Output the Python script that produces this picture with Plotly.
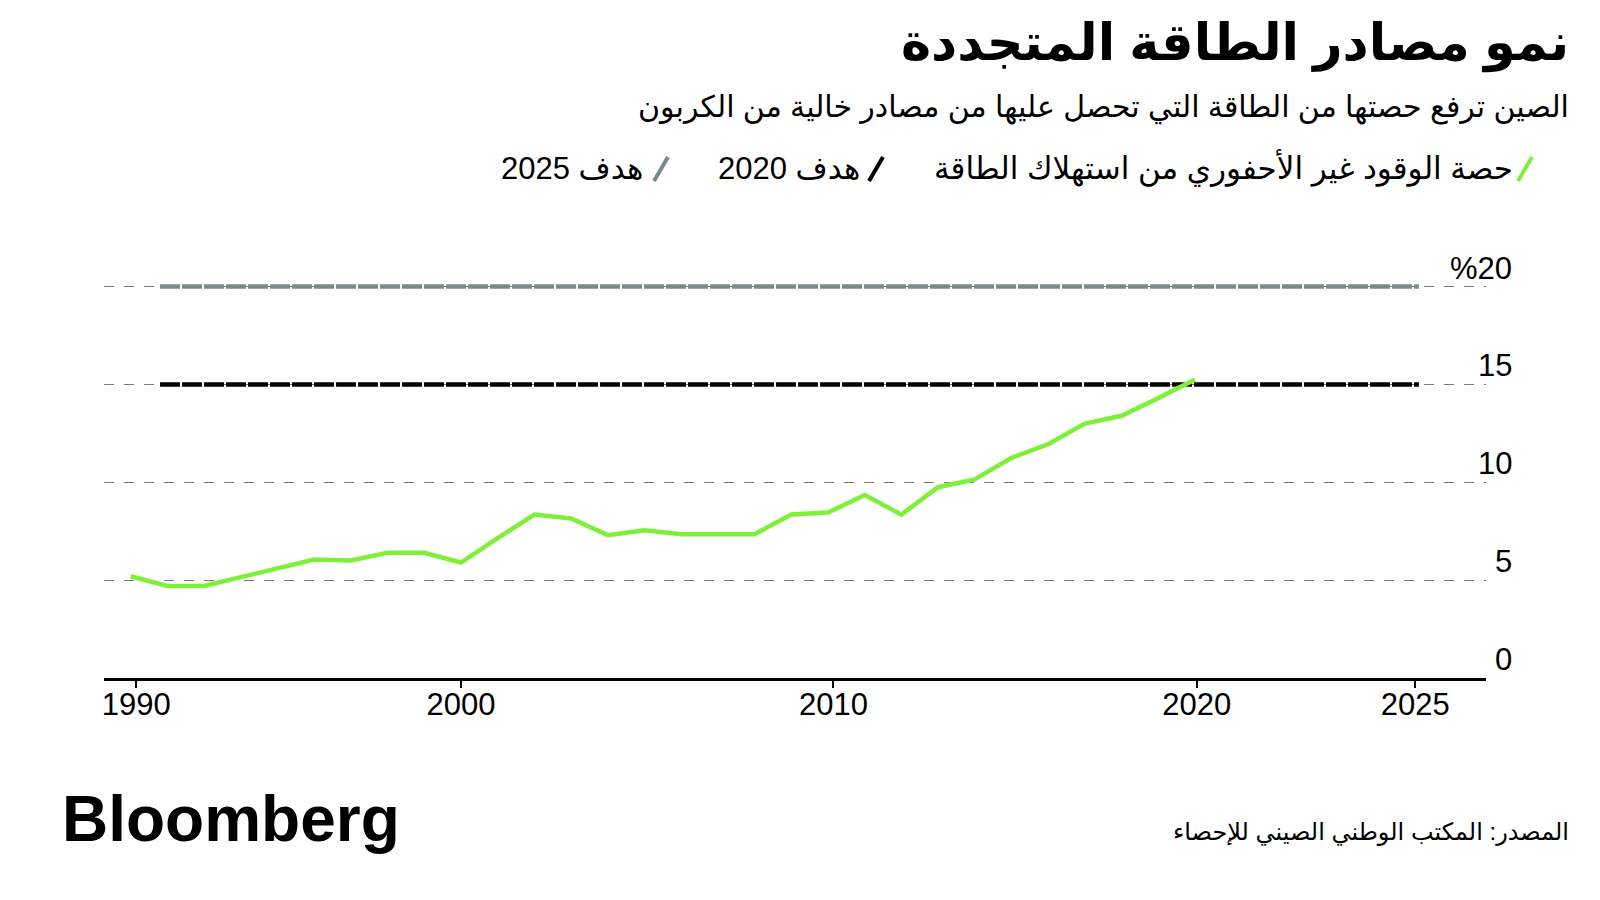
"""China non-fossil energy share vs. 2020 / 2025 targets (Bloomberg style)."""

import plotly.graph_objects as go

# data
years = list(range(1990, 2020))
non_fossil_share = [
    5.2, 4.7, 4.7, 5.15, 5.6, 6.05, 6.0, 6.4, 6.4, 5.9,
    7.15, 8.35, 8.15, 7.3, 7.55, 7.35, 7.35, 7.35, 8.35, 8.45,
    9.35, 8.35, 9.75, 10.15, 11.25, 11.95, 13.0, 13.4, 14.3, 15.25,
]
target_2020 = 15
target_2025 = 20
target_span = [1990.8, 2025.1]

# the original places its year labels one step before the matching data point
x_tick_vals = [1990.15, 1999, 2009.15, 2019.05, 2025]
x_tick_text = ["1990", "2000", "2010", "2020", "2025"]
y_ticks = [0, 5, 10, 15, 20]
y_tick_text = ["0", "5", "10", "15", "%20"]

GREEN = "#7ef03a"
BLACK = "#000000"
GREY = "#7a8a8a"
FONT = "Liberation Sans, DejaVu Sans, sans-serif"

# page body has an 8px margin, so the figure is drawn slightly smaller
OFF = 8
W, H = 1584, 884
L, R, T, B = 96, 106, 259, 214


def px(x, y):
    """Page pixel -> paper coords."""
    x, y = x - OFF, y - OFF
    return (x - L) / (W - L - R), (H - B - y) / (H - T - B)


fig = go.Figure()

fig.add_trace(go.Scatter(
    x=target_span, y=[target_2025] * 2, mode="lines",
    line=dict(color=GREY, width=4.5, dash="20px,2px"), hoverinfo="skip",
))
fig.add_trace(go.Scatter(
    x=target_span, y=[target_2020] * 2, mode="lines",
    line=dict(color=BLACK, width=4.5, dash="20px,2px"), hoverinfo="skip",
))
fig.add_trace(go.Scatter(
    x=years, y=non_fossil_share, mode="lines",
    line=dict(color=GREEN, width=4.5), hoverinfo="x+y",
))

annotations = []

# y tick labels sit above the gridlines, right aligned
for v, t in zip(y_ticks, y_tick_text):
    annotations.append(dict(
        x=px(1513, 0)[0], y=v, xref="paper", yref="y", text=t,
        showarrow=False, xanchor="right", yanchor="bottom", borderpad=0,
        font=dict(family=FONT, size=31, color="black"),
    ))

# titles
for text, y, size in [
    ("<b>نمو مصادر الطاقة المتجددة</b>", 43, 51),
    ("الصين ترفع حصتها من الطاقة التي تحصل عليها من مصادر خالية من الكربون", 108, 30),
]:
    ax, ay = px(1571, y)
    annotations.append(dict(
        x=ax, y=ay, xref="paper", yref="paper", text=text, showarrow=False,
        xanchor="right", yanchor="middle", font=dict(family=FONT, size=size, color="black"),
    ))

# legend (right to left)
legend_items = [
    ("حصة الوقود غير الأحفوري من استهلاك الطاقة", GREEN, 1515, 1525),
    ("هدف 2020", BLACK, 862, 876),
    ("هدف 2025", GREY, 645, 661),
]
shapes = []
for text, color, text_right, icon_x in legend_items:
    ax, ay = px(text_right, 168)
    annotations.append(dict(
        x=ax, y=ay, xref="paper", yref="paper", text=text, showarrow=False,
        xanchor="right", yanchor="middle", font=dict(family=FONT, size=31, color="black"),
    ))
    x0, y0 = px(icon_x - 7, 181)
    x1, y1 = px(icon_x + 7, 157)
    shapes.append(dict(
        type="line", xref="paper", yref="paper", x0=x0, y0=y0, x1=x1, y1=y1,
        line=dict(color=color, width=4),
    ))

# footer
ax, ay = px(60, 819)
annotations.append(dict(
    x=ax, y=ay, xref="paper", yref="paper", text="<b>Bloomberg</b>", showarrow=False,
    xanchor="left", yanchor="middle", font=dict(family=FONT, size=64, color="black"),
))
ax, ay = px(1571, 832)
annotations.append(dict(
    x=ax, y=ay, xref="paper", yref="paper", text="المصدر: المكتب الوطني الصيني للإحصاء",
    showarrow=False, xanchor="right", yanchor="middle",
    font=dict(family=FONT, size=24, color="black"),
))

fig.update_layout(
    width=W, height=H,
    margin=dict(l=L, r=R, t=T, b=B),
    paper_bgcolor="white", plot_bgcolor="white",
    showlegend=False,
    font=dict(family=FONT, color="black"),
    xaxis=dict(
        range=[1989.273, 2026.93],
        tickvals=x_tick_vals, ticktext=x_tick_text,
        showgrid=False, zeroline=False,
        showline=True, linecolor="black", linewidth=3,
        ticks="outside", ticklen=7, tickwidth=2, tickcolor="black",
        ticklabelstandoff=-10,
        tickfont=dict(family=FONT, size=31, color="black"),
    ),
    yaxis=dict(
        range=[0, 21], tickvals=y_ticks, showticklabels=False,
        showgrid=True, gridcolor="#7a7a7a", gridwidth=1, griddash="10px,10px",
        zeroline=False, showline=False,
    ),
    annotations=annotations,
    shapes=shapes,
)

fig.write_html("out.html")
